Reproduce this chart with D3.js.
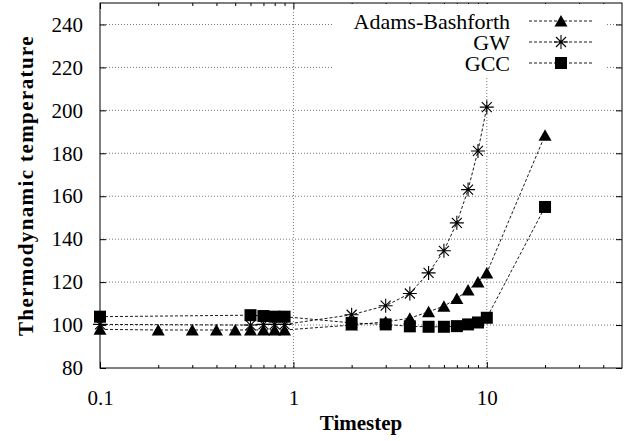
<!DOCTYPE html>
<html><head><meta charset="utf-8">
<script src="https://cdn.jsdelivr.net/npm/d3@7"></script>
<style>body{margin:0;background:#fff} svg text{font-family:"Liberation Serif","Tinos","Times New Roman","DejaVu Serif",serif;}</style>
</head><body><svg id="c" width="634" height="441"></svg>
<script>
// ---- data ----
const abX  = [0.1,0.2,0.3,0.4,0.5,0.6,0.7,0.8,0.9,2,3,4,5,6,7,8,9,10,20];
const abY  = [98,97.7,97.7,97.7,97.7,97.7,97.7,97.7,97.7,100,101.5,103.2,106.2,108.8,112.4,116.3,120.1,124.3,188.4];
const gwX  = [0.1,0.6,0.7,0.8,0.9,2,3,4,5,6,7,8,9,10];
const gwY  = [100.3,100,100.3,100.3,100.3,104.8,109,114.7,124.3,134.6,147.6,163.1,181.1,201.5];
const gccX = [0.1,0.6,0.7,0.8,0.9,2,3,4,5,6,7,8,9,10,20];
const gccY = [103.9,104.6,104.2,103.9,103.9,101,100.3,99.4,99.2,99.2,99.5,100.3,101.2,103.4,155];
const seriesNames = ["Adams-Bashforth","GW","GCC"];
const yTicks = [80,100,120,140,160,180,200,220,240];
const xMajor = [0.1,1,10];
const xMinor = [0.2,0.3,0.4,0.5,0.6,0.7,0.8,0.9,2,3,4,5,6,7,8,9,20,30,40];
const xLabel = "Timestep";
const yLabel = "Thermodynamic temperature";

// ---- layout ----
const L=100, R=622, T=3, B=368;
const svg = d3.select("#c");
const x = d3.scaleLog().domain([0.1,50]).range([L,R]);
const y = d3.scaleLinear().domain([80,250]).range([B,T]);
const font = '"Liberation Serif","Tinos","Times New Roman","DejaVu Serif",serif';

// grid
const grid = svg.append("g");
grid.selectAll("line.gy").data(yTicks.slice(1)).join("line")
  .attr("x1",L).attr("x2",R).attr("y1",d=>y(d)).attr("y2",d=>y(d));
grid.selectAll("line.gx").data([1,10]).join("line")
  .attr("x1",d=>x(d)).attr("x2",d=>x(d)).attr("y1",T).attr("y2",B);
grid.selectAll("line").attr("stroke","#777").attr("stroke-width",1).attr("stroke-dasharray","1,2");

// axes (ticks inward)
function styleAxis(g){
  g.attr("font-family",null).attr("font-size",null);
  g.select(".domain").remove();
  g.selectAll("line").attr("stroke","#000");
  g.selectAll("text").style("font-family",font).style("font-size","21px").attr("fill","#000");
}
svg.append("g").attr("transform",`translate(0,${B})`)
  .call(d3.axisBottom(x).tickValues(xMajor).tickFormat(d=>String(d)).tickSize(-6).tickPadding(22))
  .call(styleAxis);
svg.append("g").attr("transform",`translate(0,${B})`)
  .call(d3.axisBottom(x).tickValues(xMinor).tickFormat("").tickSize(-3))
  .call(styleAxis);
svg.append("g").attr("transform",`translate(0,${T})`)
  .call(d3.axisTop(x).tickValues(xMajor).tickFormat("").tickSize(-6))
  .call(styleAxis);
svg.append("g").attr("transform",`translate(0,${T})`)
  .call(d3.axisTop(x).tickValues(xMinor).tickFormat("").tickSize(-3))
  .call(styleAxis);
svg.append("g").attr("transform",`translate(${L},0)`)
  .call(d3.axisLeft(y).tickValues(yTicks).tickSize(-6).tickPadding(17))
  .call(styleAxis);
svg.append("g").attr("transform",`translate(${R},0)`)
  .call(d3.axisRight(y).tickValues(yTicks).tickFormat("").tickSize(-6))
  .call(styleAxis);

// series
const series = [
  {name:seriesNames[0], xs:abX, ys:abY, m:"tri"},
  {name:seriesNames[1], xs:gwX, ys:gwY, m:"star"},
  {name:seriesNames[2], xs:gccX, ys:gccY, m:"sq"}
];
const line = d3.line().x(d=>x(d[0])).y(d=>y(d[1]));
function marker(g, type, cx, cy){
  if(type==="tri"){
    g.append("path").attr("d",`M${cx-6.5},${cy+5.5}L${cx+6.5},${cy+5.5}L${cx},${cy-6}Z`).attr("fill","#000");
  } else if(type==="sq"){
    g.append("rect").attr("x",cx-6).attr("y",cy-6).attr("width",12).attr("height",12).attr("fill","#000");
  } else {
    const r=7, d=5;
    g.append("path").attr("d",`M${cx-r},${cy}L${cx+r},${cy}M${cx},${cy-r}L${cx},${cy+r}M${cx-d},${cy-d}L${cx+d},${cy+d}M${cx-d},${cy+d}L${cx+d},${cy-d}`)
      .attr("stroke","#000").attr("stroke-width",1.1).attr("fill","none");
  }
}
series.forEach(s=>{
  const pts = s.xs.map((v,i)=>[v,s.ys[i]]);
  svg.append("path").datum(pts).attr("d",line).attr("fill","none")
    .attr("stroke","#000").attr("stroke-width",0.9).attr("stroke-dasharray","3,2");
  const g = svg.append("g");
  pts.forEach(p=>marker(g,s.m,x(p[0]),y(p[1])));
});

// legend (opaque)
const leg = svg.append("g");
leg.append("rect").attr("x",333).attr("y",T+1).attr("width",272).attr("height",72).attr("fill","#fff");
series.forEach((s,i)=>{
  const yy = 21 + i*21;
  leg.append("text").attr("x",510).attr("y",yy).attr("dy","0.35em").attr("text-anchor","end")
    .style("font-family",font).style("font-size","22px").text(s.name);
  leg.append("line").attr("x1",529).attr("x2",593).attr("y1",yy).attr("y2",yy)
    .attr("stroke","#000").attr("stroke-width",0.9).attr("stroke-dasharray","3,2");
  marker(leg,s.m,561,yy);
});

// border
svg.append("rect").attr("x",L).attr("y",T).attr("width",R-L).attr("height",B-T)
  .attr("fill","none").attr("stroke","#000").attr("stroke-width",1);

// axis titles
svg.append("text").attr("x",(L+R)/2).attr("y",430).attr("text-anchor","middle")
  .style("font-family",font).attr("font-weight","bold").style("font-size","21px").text(xLabel);
svg.append("text").attr("transform",`translate(33,${(T+B)/2}) rotate(-90)`).attr("text-anchor","middle")
  .style("font-family",font).attr("font-weight","bold").style("font-size","21px").attr("letter-spacing","1.4px").text(yLabel);
</script></body></html>
